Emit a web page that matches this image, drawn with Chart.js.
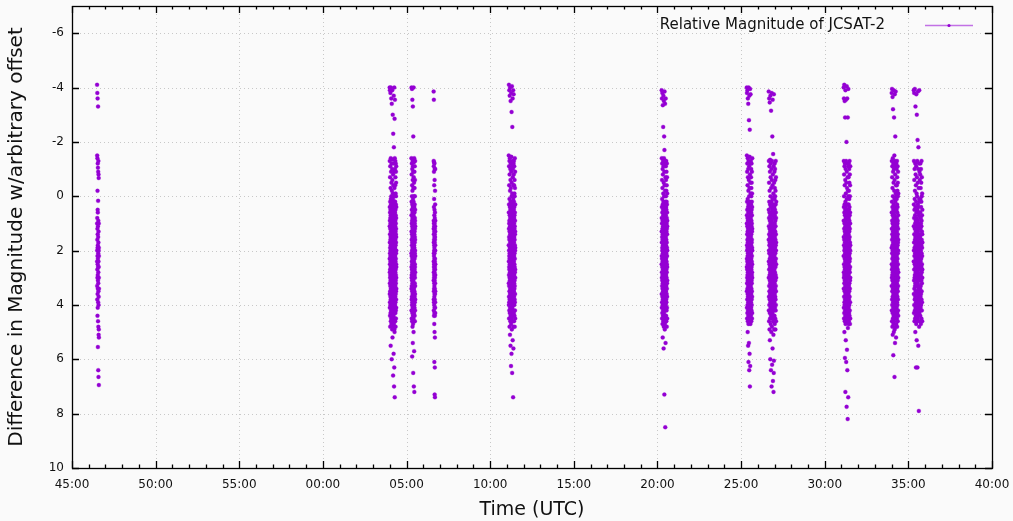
<!DOCTYPE html>
<html>
<head>
<meta charset="utf-8">
<script src="https://cdn.jsdelivr.net/npm/chart.js@4.4.1/dist/chart.umd.min.js"></script>
<style>
  html, body { margin: 0; padding: 0; background: #fafafa; }
  canvas { display: block; }
</style>
</head>
<body>
<canvas id="mag" width="1013" height="521"></canvas>
<script>
// time axis: minutes after the 45:00 mark
const xTickValues = [0, 5, 10, 15, 20, 25, 30, 35, 40, 45, 50, 55];
const xTickLabels = ['45:00', '50:00', '55:00', '00:00', '05:00', '10:00', '15:00', '20:00', '25:00', '30:00', '35:00', '40:00'];
const yTickValues = [-6, -4, -2, 0, 2, 4, 6, 8, 10];

// start / end of each observing pass (minutes after 45:00)
const clusterStart = [1.50, 18.99, 20.29, 21.62, 26.11, 35.25, 40.34, 41.65, 46.13, 49.00, 50.32];
const clusterEnd   = [1.61, 19.39, 20.52, 21.72, 26.50, 35.59, 40.67, 42.10, 46.53, 49.40, 50.84];

// relative magnitudes, in time order within each pass
const magA = [-4.1, 2.4, 1.0, 3.3, -1.5, 2.0, 0.8, 3.8, -3.8, 1.6, 2.7, -1.4, 1.2, 3.0, 4.4, 2.2, -0.2, 1.9, 3.6, -3.6,
  2.5, 0.5, 1.4, 4.1, -1.2, 2.9, 0.6, 3.4, 1.8, 5.55, 2.3, -1.05, 3.1, 1.1, 4.6, -3.3, 2.6, 0.17, 3.9, 1.5,
  -0.9, 2.1, 6.4, 3.2, 0.9, 2.8, 4.8, -1.3, 1.7, 3.5, 2.4, 6.65, -0.8, 1.3, 4.0, 2.0, 5.1, 3.7, -0.67, 2.6,
  1.0, 4.9, 3.0, 1.9, 6.95, 2.2, 5.2, 3.4];
const magB = [-4.0, 2.3, 1.1, 3.6, -1.3, 0.4, 2.8, 4.1, 1.7, 3.2, -3.9, 0.9, 2.5, 3.9, 1.4, 2.1, 4.4, 0.6, -0.7, 3.0,
  1.9, 2.7, 3.5, 0.2, 4.8, 1.2, 2.9, -1.1, 3.3, 0.8, 2.2, 4.0, 1.6, -3.8, 3.7, 2.4, 0.5, 1.0, 4.3, 2.0,
  -0.3, 3.1, 1.5, 2.6, 5.5, 0.7, 3.8, 1.8, -1.4, 2.3, 4.6, 0.1, 3.4, 1.3, 2.7, -4.0, 3.9, 0.3, 2.0, 4.2,
  1.1, -0.9, 2.9, 3.6, 1.7, 0.6, 2.4, 4.5, 1.0, 3.2, -3.6, 2.1, 0.0, 3.0, 1.4, 4.7, 2.6, -0.5, 1.9, 3.5,
  0.8, 2.8, 4.1, 1.2, -1.2, 3.3, 2.2, 0.4, 6.0, 1.6, 3.7, 2.5, -3.4, 0.9, 4.4, 1.8, 3.1, -0.2, 2.0, 1.3,
  3.8, 0.5, 2.7, 4.0, 1.5, -1.0, 2.3, 3.4, 0.2, 4.9, 1.9, -3.9, 2.9, 1.0, 3.6, 0.7, 2.1, 4.3, -0.6, 1.4,
  3.0, 2.6, 0.3, 5.2, 1.7, 3.9, 2.4, -1.35, 0.9, 4.6, 2.0, 1.2, 3.3, -3.0, 2.8, 0.6, 4.2, 1.6, -0.1, 3.5,
  2.2, 1.1, 3.8, 0.1, 2.5, 4.5, -0.8, 1.8, 3.2, 6.6, 2.7, 0.4, 4.0, 1.3, -2.3, 2.9, 3.6, 0.8, 2.1, 4.8,
  1.5, -0.4, 3.1, 2.4, 0.0, 4.4, 1.9, 3.4, -1.2, 2.6, 1.0, 5.8, 3.7, 0.5, 2.3, 4.1, 1.4, -3.7, 3.0, 2.0,
  0.7, 3.9, 1.7, -1.8, 2.8, 4.7, 1.2, 3.3, 0.3, 2.5, 7.0, 1.6, 3.6, -0.9, 2.2, 4.3, 0.9, 1.8, 3.0, 6.3,
  -4.0, 2.7, 1.3, 4.9, 0.6, 3.5, 2.1, -0.3, 1.0, 3.8, 2.4, 5.0, 1.5, -2.85, 2.9, 0.2, 4.2, 1.9, 3.2, 7.4,
  -1.4, 2.6, 0.8, 3.7, 1.1, 4.5, 2.3, -3.55, 3.1, 1.7,
  0.6, 3.4, 1.9, -1.0, 2.6, 4.0, 0.2, 3.0, 1.5, -0.4, 2.2, 4.6, 1.1, 3.7, -1.3, 2.8, 0.9, 3.3, 1.6, 4.3,
  -0.7, 2.4, 0.5, 3.9, 1.3, 2.0, 4.8, -0.1, 3.1, 1.8, 2.7, 0.7, -1.2, 3.6, 1.0, 4.2, 2.3, 0.3, 3.2, 1.4,
  2.9, -0.9, 4.5, 1.7, 0.0, 3.5, 2.1, -0.5, 1.2, 3.8, 2.5, 0.8, 4.1, 1.5, -1.1, 3.0, 2.0, 0.4, 3.4, 2.6];
const magC = [2.1, -1.4, 3.4, 0.7, 2.6, 4.2, 1.3, -4.0, 3.0, 0.2, 2.2, 3.8, 1.6, -0.8, 2.9, 4.5, 1.0, 3.3, 0.5, 2.4,
  -1.2, 3.7, 1.8, 2.7, 0.0, 4.0, 1.4, -3.95, 3.1, 2.0, 0.9, 4.6, -0.4, 2.5, 3.5, 1.1, 5.9, 2.8, -1.0, 1.7,
  3.9, 0.3, 2.3, 4.3, 1.5, -3.55, 3.2, 0.8, 2.6, -0.2, 1.9, 4.8, 3.6, 1.2, 2.1, 0.6, -1.3, 3.0, 4.1, 1.6,
  2.9, -0.6, 3.4, 0.4, 2.4, 5.4, 1.0, 3.8, -3.3, 2.2, 4.4, 1.3, -1.1, 0.1, 2.7, 3.3, 1.8, 4.7, 0.9, 2.0,
  -0.9, 3.7, 2.5, 1.4, 6.5, 0.5, 3.1, -2.2, 4.0, 1.7, 2.8, -0.3, 3.5, 1.1, 2.3, 4.5, 0.7, -1.35, 3.9, 2.6,
  1.5, 5.0, 0.2, 3.2, 2.0, -4.0, 4.2, 1.9, -0.7, 2.9, 1.2, 3.6, 0.6, 7.0, 2.4, 4.6, -1.25, 1.6, 3.0, 0.0,
  2.7, 3.4, 1.3, -0.5, 4.3, 2.1, 5.7, 0.8, 3.8, 1.8, -1.4, 2.5, 4.0, 1.0, 3.3, 0.4, 2.2, 7.2, 1.4, 3.6,
  1.9, 3.5, -0.9, 2.7, 0.6, 4.1, 1.3, 2.3, -0.3, 3.7, 1.0, 2.9, 4.4, 0.3, 1.7, 3.2, -1.1, 2.1, 0.8, 3.9,
  2.5, 1.5, 4.6, 0.0, 3.0, 1.2, -0.6, 2.6, 3.6, 0.9, 2.0, 4.2, 1.6, -1.3, 3.3, 0.5, 2.8, 1.1, 3.8, 2.2];
const magD = [-3.85, 1.2, 3.1, -1.3, 2.4, 0.9, 3.8, 1.7, -1.1, 2.8, 4.2, 1.4, -3.55, 2.1, 3.5, 0.4, 2.6, 1.0, 3.9, -0.9,
  2.2, 4.4, 1.6, 3.0, -1.25, 2.5, 1.1, 3.4, 0.1, 2.9, 4.0, 1.8, -0.4, 3.2, 2.0, 4.7, 1.3, 2.7, 0.7, 3.7,
  6.1, 1.9, 3.3, -1.2, 2.3, 4.3, 1.5, 2.8, 0.5, 3.6, 2.1, 5.0, 1.0, 3.1, -0.6, 2.5, 4.1, 1.7, 7.3, 2.9,
  3.8, 1.4, -1.0, 2.4, 0.8, 3.4, 6.3, 2.0, 4.4, 1.2, 3.0, 5.2, 2.6, 1.6, 7.4,
  2.3, 0.6, 3.6, 1.5, -0.2, 2.7, 4.1, 1.1, 3.2, 0.3, 2.0, 3.9, 1.8, -1.0, 2.9, 4.3, 1.3, 3.5, 0.9, 2.5];
const magE = [1.8, -1.5, 3.2, 0.6, 2.4, 4.0, -4.1, 1.2, 2.9, 3.7, 0.3, 2.0, -1.1, 4.5, 1.5, 3.3, 2.6, -0.4, 1.0, 3.9,
  2.2, -3.9, 4.2, 0.9, 2.7, 1.6, 3.5, -1.3, 0.1, 2.3, 4.8, 1.3, 3.0, -0.8, 2.1, 3.8, 0.7, -3.7, 2.5, 4.3,
  1.9, 3.1, -1.4, 0.4, 2.8, 1.1, 3.6, 5.1, 2.0, -0.2, 4.1, 1.4, 3.4, 0.8, -4.0, 2.6, 1.7, 3.9, -1.0, 2.2,
  4.6, 0.5, 3.2, 1.2, 2.9, -0.6, 3.7, 1.8, 5.5, 2.4, 0.2, -3.5, 4.4, 1.5, 3.0, 2.1, -1.2, 0.9, 3.5, 2.7,
  1.0, 4.0, -0.3, 2.3, 3.3, 1.6, 6.25, 0.6, 2.8, -3.8, 4.7, 1.3, 3.8, 2.0, -0.9, 1.9, 3.1, 0.3, 2.5, 4.2,
  1.1, -1.45, 3.6, 2.2, 0.7, 5.8, 2.9, 1.4, -3.1, 3.4, 0.0, 4.5, 1.7, 2.6, -0.5, 3.9, 1.2, 2.1, 4.9, 0.8,
  3.2, -4.05, 2.4, 1.5, -1.1, 3.7, 0.4, 2.7, 4.3, 1.8, 6.5, 3.0, -0.1, 2.0, 1.0, 4.1, -2.55, 2.8, 3.5, 0.5,
  1.6, 3.3, -1.3, 2.5, 4.6, 0.9, 2.2, 3.8, -3.6, 1.3, 5.3, 2.9, 0.2, -0.7, 3.1, 1.9, 4.4, 2.3, 1.1, 3.6,
  0.6, -1.0, 2.6, 4.0, 1.4, 3.4, 7.4, 2.1, -3.9, 0.1, 2.8, 4.8, 1.7, 3.0, -0.4, 2.4, 1.2, 3.9, 5.6, 0.7,
  2.0, -1.2, 3.5, 1.5, 4.2, 2.7, -3.75, 0.3, 3.2, 1.8,
  2.4, -0.8, 3.5, 1.3, 0.5, 4.3, 2.0, -1.3, 3.0, 1.7, 0.2, 2.7, 4.6, 1.0, -0.4, 3.7, 2.2, 0.8, 3.2, 1.5,
  -1.1, 2.9, 4.0, 0.4, 1.9, 3.4, -0.1, 2.5, 1.2, 4.4, 0.7, 3.1, 2.1, -0.6, 3.8, 1.6, 0.0, 2.6, 4.8, 1.1,
  3.3, -1.4, 2.3, 0.6, 3.9, 1.8, -0.3, 2.8, 4.2, 1.4, 0.9, 3.6, 2.0, -0.9, 1.3, 4.5, 2.7, 0.3, 3.0, 1.9];
const magF = [2.5, -3.9, 1.3, 3.6, 0.8, 2.2, -1.4, 4.1, 1.7, 3.0, 0.4, 2.8, -3.6, 1.0, 3.9, 2.3, -0.6, 4.5, 1.5, 3.3,
  0.1, 2.6, -1.2, 1.9, 4.3, 3.1, 0.6, -3.8, 2.0, 3.7, 1.2, -0.3, 2.9, 4.7, 1.6, 3.4, 0.9, -1.0, 2.4, 4.0,
  1.4, 5.2, 3.2, 0.3, 2.1, -3.35, 3.8, 1.8, -0.8, 2.7, 4.4, 1.1, 3.5, 0.5, 2.3, -1.3, 1.5, 4.2, 2.9, -2.55,
  0.7, 3.0, 2.0, -0.1, 4.6, 1.3, 3.6, 2.5, -3.7, 0.2, 1.9, 3.3, -1.1, 2.8, 4.1, 1.0, 5.6, 3.9, 0.8, 2.2,
  -0.5, 1.7, 3.1, 4.8, 2.6, -3.5, 1.2, 3.7, 0.4, 2.4, -1.4, 4.3, 1.6, 2.9, 0.0, 3.4, -2.2, 2.1, 1.4, 4.0,
  3.2, 0.6, -0.9, 2.7, 1.8, 7.3, 3.8, 2.3, -1.7, 1.1, 4.5, 0.9, 3.0, -3.85, 2.5, 1.5, 3.5, -0.4, 2.0, 4.2,
  1.3, 4.9, 2.8, 0.3, 3.6, -1.2, 1.9, 2.4, 4.7, 0.7, 3.1, -3.4, 1.6, 2.6, -0.2, 3.9, 1.0, 4.4, 2.2, 8.5,
  0.5, 3.3, -1.3, 2.9, 1.7, 4.1, 0.2, 2.1, 3.7, -0.7, 1.2, 5.4, 2.7, 3.4, 0.8, -3.6, 4.6, 1.4, 2.3, 3.0,
  3.1, 0.7, -1.1, 2.6, 1.5, 4.0, 0.0, 2.3, 3.5, -0.6, 1.8, 4.4, 2.9, 0.4, 1.1, 3.8, -1.3, 2.1, 0.9, 3.3,
  4.6, 1.6, -0.2, 2.7, 0.5, 3.9, 1.3, -0.9, 2.4, 4.2, 1.0, 3.0, 0.2, 2.0, 3.6, -0.4, 1.7, 4.8, 2.8, 0.8,
  -1.2, 3.4, 1.2, 2.5, 0.3, 4.1, 1.9, -0.7, 3.2, 2.2, 0.6, 3.7, 1.4, 4.5, -0.1, 2.6, 1.1, 3.1, 0.9, 2.0];
const magG = [-4.0, 2.6, 1.0, 3.5, -1.5, 0.7, 2.3, 4.1, 1.8, -3.8, 3.2, 0.2, 2.0, 4.5, 1.4, -0.9, 3.0, 2.7, 0.5, 3.8,
  1.1, -1.2, 2.4, 4.3, 1.6, 3.4, -3.9, 0.8, 2.9, 1.9, 4.0, -0.4, 2.2, 3.6, 1.3, 5.0, 2.5, 0.1, -1.4, 3.1,
  1.7, 4.6, 2.8, -3.6, 0.9, 3.7, 2.1, -0.7, 1.2, 4.2, 3.3, 0.4, 2.6, 5.5, 1.5, -1.0, 3.9, 2.0, -3.4, 4.4,
  0.6, 2.7, 1.8, 3.0, -0.2, 2.3, 4.7, 1.1, 6.1, 3.5, 0.3, -1.3, 2.9, 1.4, 4.0, -4.0, 2.4, 3.2, 0.8, 1.9,
  3.8, -0.6, 2.2, 4.5, 1.0, 5.4, 2.6, -2.8, 3.4, 0.5, 1.6, 4.1, 2.8, -1.1, 3.1, 0.0, 2.0, 6.4, 1.3, 3.6,
  2.5, -3.7, 4.3, 0.9, 1.7, 3.0, -0.3, 2.1, 4.6, 1.2, 3.7, 5.8, 0.6, 2.7, -1.45, 1.5, 3.3, 2.4, -2.45, 4.2,
  1.9, 0.2, 3.9, 2.2, 7.0, 1.0, -0.8, 2.9, 3.5, 1.4, 4.4, 0.7, -3.95, 2.6, 1.8, 6.25, 3.1, -0.5, 2.3, 4.0,
  1.1, 3.4, 0.4, 2.8, -1.2, 1.6, 4.7, 2.0, 3.2, 0.9, -3.75, 2.5, 1.3, 3.8, -0.1, 2.1, 4.3, 1.7, 3.0, 0.3,
  0.8, 3.3, -1.3, 2.1, 4.4, 1.5, 0.3, 2.8, 3.9, -0.7, 1.2, 2.5, 4.1, 0.6, 3.0, -1.0, 1.8, 3.6, 2.3, 0.0,
  4.6, 1.4, 2.7, -0.3, 3.4, 0.9, 2.0, 4.2, 1.1, -1.2, 3.1, 2.6, 0.5, 3.8, 1.7, -0.5, 2.4, 4.0, 1.0, 3.2,
  0.2, 2.9, 1.6, -0.9, 3.5, 2.2, 0.7, 4.5, 1.3, 2.8, -0.1, 3.7, 1.9, 0.4, 2.5, 4.3, 1.2, 3.0, -1.4, 2.0];
const magH = [1.6, -3.85, 3.0, 0.5, 2.4, 4.2, -1.3, 1.1, 3.7, 2.0, 0.8, 4.6, -0.5, 2.7, 1.4, 3.3, -3.6, 0.2, 2.1, 4.0,
  1.8, 3.5, -1.1, 2.5, 0.6, 4.9, 1.2, 2.9, -0.2, 3.8, 1.7, -3.45, 2.3, 4.3, 0.9, 3.1, 5.3, 1.5, -0.9, 2.6,
  3.6, 0.3, 2.0, 4.5, -1.34, 1.3, 3.2, 2.8, 0.7, 6.0, 1.9, 3.9, -3.7, 2.2, 0.0, 4.1, 1.0, 3.4, -0.7, 2.7,
  1.6, 4.7, 2.4, 0.4, 3.0, -1.2, 1.2, 3.7, 2.1, 6.4, 0.8, 4.4, -3.15, 2.9, 1.5, 3.3, -0.3, 2.5, 1.8, 5.0,
  3.8, 0.6, 2.3, -1.0, 4.2, 1.1, 3.5, 2.0, 7.0, 0.2, 2.8, -3.8, 1.7, 4.0, 3.1, -0.6, 1.4, 2.6, 4.8, 0.9,
  3.6, 2.2, -1.3, 1.0, 6.2, 3.9, 0.5, 2.4, 4.5, 1.6, -2.2, 3.2, 2.9, 0.1, 1.9, 4.3, -0.4, 2.7, 5.6, 1.3,
  3.4, -3.55, 0.7, 2.1, 4.1, 1.8, 3.0, -0.8, 2.5, 6.8, 1.2, 3.7, 0.3, 4.6, 2.0, -1.55, 1.5, 3.3, 2.8, 0.6,
  4.0, 1.7, -0.1, 2.3, 5.1, 3.5, 1.0, 7.2, 2.6, -1.1, 4.4, 0.4, 3.1, 1.4, 6.5, 2.2, 3.8, -3.75, 1.9, 6.05,
  0.8, 2.9, 4.2, 1.1, -0.5, 3.6, 2.4, 4.9, 0.0, 1.6,
  2.7, 0.4, 3.9, 1.2, -0.9, 2.2, 4.4, 1.7, 0.1, 3.2, 2.5, -1.2, 1.0, 3.6, 4.7, 0.7, 2.0, -0.3, 3.0, 1.5,
  4.1, 2.8, 0.5, -1.0, 3.4, 1.9, 2.4, 0.0, 4.5, 1.3, 3.7, -0.6, 2.1, 0.9, 3.1, 4.9, 1.6, 2.6, -0.2, 3.8,
  1.1, 0.3, 2.9, 4.2, -1.3, 1.8, 3.3, 0.6, 2.3, 4.0, 1.4, -0.7, 3.5, 2.0, 0.8, 4.6, 1.7, 3.0, 2.5, 0.2];
const magI = [2.2, -4.0, 0.9, 3.4, 1.5, -1.3, 2.8, 4.1, 0.4, 3.0, -3.6, 1.8, 2.5, 4.5, 0.0, 3.7, -0.8, 1.2, 2.9, 4.3,
  1.6, -4.1, 3.2, 0.6, 2.0, 5.0, 3.9, -1.1, 1.0, 2.6, 4.0, 0.3, 3.5, -3.5, 1.9, 2.3, -0.4, 4.6, 1.3, 3.1,
  0.7, 2.7, 5.95, 1.7, -1.2, 3.8, 2.1, 4.2, -2.9, 0.5, 3.3, 1.4, 2.4, -0.6, 4.4, 1.1, 3.6, 7.2, 2.8, 0.2,
  -3.9, 2.0, 4.7, 1.6, 3.0, -1.0, 0.8, 2.5, 3.9, 1.2, 5.3, 2.2, -0.1, 4.1, 1.8, 3.4, -3.55, 0.4, 2.9, 4.5,
  1.5, -1.3, 3.2, 2.3, 6.1, 0.9, 3.7, 1.0, -0.5, 2.6, 4.3, 1.9, 3.5, -2.0, 0.6, 2.1, 4.0, 1.3, 7.75, 3.1,
  2.7, -4.05, 0.1, 3.8, 1.7, -0.9, 2.4, 4.6, 1.1, 3.3, 5.65, 2.0, -0.3, 3.6, 1.4, 4.2, 0.7, -3.6, 2.8, 1.6,
  3.0, 6.4, 2.2, -1.2, 4.4, 0.3, 3.9, 1.8, 2.5, -0.7, 3.4, 1.2, 8.2, 2.9, 0.5, -2.9, 4.1, 1.0, 3.2, 2.3,
  4.85, 1.5, -0.2, 3.7, 0.8, 2.6, 4.5, -1.1, 1.9, 3.0, 7.4, 2.1, 0.0, 3.5, -3.95, 1.3, 4.7, 2.4, 0.6, 3.3,
  1.4, 3.6, -0.7, 2.5, 0.3, 4.1, 1.8, 2.9, -1.2, 0.8, 3.3, 2.0, 4.6, 1.1, -0.2, 3.8, 2.6, 0.5, 1.6, 4.3,
  3.0, -1.0, 2.2, 0.1, 3.5, 1.3, 4.0, 2.7, -0.5, 0.9, 3.2, 1.9, 4.4, 0.4, 2.4, -1.3, 3.7, 1.5, 2.1, 0.7,
  4.2, 2.8, -0.8, 1.2, 3.4, 0.0, 2.3, 4.7, 1.7, 3.1, -0.4, 0.6, 2.6, 3.9, 1.0, 2.0, 4.5, -1.1, 3.0, 1.8];
const magJ = [1.9, -3.8, 3.3, 0.6, 2.5, -1.3, 4.2, 1.2, 3.0, 0.2, 2.7, 4.6, -3.95, 1.6, 3.8, 2.1, -0.7, 0.9, 4.0, 2.9,
  1.4, 3.5, -1.1, 2.3, 4.8, 0.4, 3.1, 1.8, -0.3, 2.6, -3.65, 4.3, 1.0, 3.7, 2.0, 0.7, 5.1, 2.8, -1.4, 1.5,
  3.4, 4.5, 0.0, 2.2, 1.3, -3.2, 3.9, 2.5, -0.9, 4.1, 1.7, 3.2, 0.5, 2.9, 5.85, 1.1, 3.6, -1.2, 2.4, 4.7,
  0.8, 2.0, 3.0, -0.5, 1.6, 4.4, 2.7, -3.9, 0.3, 3.5, 1.9, 5.0, 2.3, -1.0, 3.8, 1.2, 4.0, 0.6, 2.6, -2.9,
  3.3, 1.4, 2.1, 4.6, -0.2, 0.9, 3.7, 2.8, 1.7, -1.5, 4.2, 0.1, 3.1, 2.4, 6.65, 1.0, 3.9, -0.6, 2.0, 4.9,
  1.5, -3.75, 3.4, 0.7, 2.7, 4.3, 1.3, -1.3, 3.0, 2.2, 0.4, 5.4, 1.8, 3.6, -0.8, 2.5, 4.1, 1.1, 2.9, -2.2,
  0.2, 3.2, 1.6, 4.5, 2.3, -1.1, 0.8, 3.8, 2.0, 4.8, 1.4, -3.85, 2.6, 3.5, -0.1, 1.9, 4.0, 0.5, 3.1, 2.4,
  1.0, 4.4, -0.4, 2.8, 5.2, 1.2, 3.3, 0.0, 2.1, 3.9, -1.2, 1.7, 4.7, 2.5, 0.9, 3.0, 1.5, 4.2, 2.2, 3.7,
  3.0, 0.5, 2.2, -1.0, 4.1, 1.6, 2.8, 0.1, 3.6, -0.4, 1.3, 4.5, 2.4, 0.8, 3.2, -1.3, 1.9, 3.9, 0.3, 2.6,
  4.8, 1.1, -0.7, 3.4, 2.0, 0.6, 4.3, 1.5, 2.9, -0.2, 3.7, 1.0, 2.3, 4.0, 0.4, -1.1, 3.1, 1.8, 2.7, 0.9,
  4.6, 1.4, 3.5, -0.5, 2.1, 0.0, 3.8, 1.7, 2.5, 4.2, -0.9, 1.2, 3.3, 0.7, 2.0, 4.4, 1.6, 3.0, -0.1, 2.8];
const magK = [2.4, -3.9, 1.1, 3.6, 0.3, 2.0, -1.3, 4.3, 1.7, 3.1, 0.8, -3.8, 2.7, 4.0, 1.4, -0.6, 3.4, 2.2, 0.5, 4.6,
  1.9, 3.0, -1.0, 2.5, 0.1, 3.8, 1.2, -3.95, 2.9, 4.2, 1.6, -0.2, 3.3, 0.7, 2.1, 4.5, 1.0, 3.7, -1.2, 2.6,
  5.0, 1.5, 3.2, 0.4, -3.3, 2.3, 4.1, 1.8, -0.8, 2.8, 3.5, 0.9, 4.4, 1.3, 2.0, -0.4, 3.9, 6.3, 1.6, 2.4,
  0.2, 3.0, -1.1, 4.7, 1.1, -3.75, 2.7, 3.6, 0.6, 1.9, 4.0, 2.2, -0.1, 3.3, 1.4, 5.3, 2.5, 0.8, -3.0, 3.8,
  1.7, 4.3, -0.7, 2.1, 3.1, 0.0, 2.9, 1.2, 4.6, -1.3, 2.4, 3.5, 0.5, 1.5, 6.3, 3.9, 2.0, -2.07, 4.2, 1.0,
  2.6, -0.5, 3.2, 1.8, 0.3, 4.5, 2.3, -3.85, 1.3, 3.7, 0.9, 2.8, -1.0, 4.1, 1.6, 5.5, 3.4, 2.1, 0.4, -1.8,
  3.0, 1.1, 4.4, 2.7, -0.3, 1.9, 3.6, 0.7, 2.4, 7.9, 1.4, 4.0, -1.2, 3.3, 2.2, 0.1, 4.8, 1.7, 2.9, -3.9,
  3.8, 0.6, 2.0, 4.3, 1.2, -0.9, 3.1, 2.5, 1.5, 4.6, 0.2, 3.5, 1.8, -0.6, 2.6, 4.2, 1.0, 3.9, 2.3, 0.8,
  1.5, 3.4, -0.8, 2.2, 0.6, 4.4, 1.9, 3.0, -1.2, 2.7, 0.1, 3.7, 1.2, 4.1, 2.4, -0.3, 1.7, 3.3, 0.8, 2.0,
  4.7, 1.0, -1.0, 2.9, 3.6, 0.4, 1.4, 4.0, 2.3, -0.5, 3.1, 1.8, 0.2, 2.6, 4.5, 1.1, 3.8, -1.3, 2.1, 0.9,
  3.5, 1.6, 2.8, 0.0, 4.2, -0.7, 1.3, 3.2, 2.5, 0.7, 3.9, 1.9, -0.1, 2.2, 4.6, 1.4, 3.0, 0.5, 2.7, 1.7];

const clusterMags = [magA, magB, magC, magD, magE, magF, magG, magH, magI, magJ, magK];

// samples are evenly spaced in time across each pass
const points = [];
clusterMags.forEach((mags, c) => {
  const dt = (clusterEnd[c] - clusterStart[c]) / (mags.length - 1);
  mags.forEach((m, i) => {
    points.push({x: clusterStart[c] + i * dt, y: m});
  });
});

const violet = '#9400d3';

// gnuplot-ish frame: dotted grid, inward ticks on all four sides, key in the corner
const gnuFrame = {
  id: 'gnuFrame',
  beforeDatasetsDraw(chart) {
    const {ctx, chartArea: a, scales: {x, y}} = chart;
    ctx.save();
    ctx.strokeStyle = '#c8c8c8';
    ctx.lineWidth = 1;
    ctx.setLineDash([1, 3]);
    ctx.beginPath();
    xTickValues.slice(1, -1).forEach(v => {
      const px = Math.round(x.getPixelForValue(v)) + 0.5;
      ctx.moveTo(px, a.top);
      ctx.lineTo(px, a.bottom);
    });
    yTickValues.slice(0, -1).forEach(v => {
      const py = Math.round(y.getPixelForValue(v)) + 0.5;
      ctx.moveTo(a.left, py);
      ctx.lineTo(a.right, py);
    });
    ctx.stroke();
    ctx.restore();
  },
  afterDatasetsDraw(chart) {
    const {ctx, chartArea: a, scales: {x, y}} = chart;
    ctx.save();
    ctx.strokeStyle = '#000';
    ctx.lineWidth = 1.3;
    ctx.beginPath();
    for (let m = x.min; m <= x.max; m += 1) {
      const px = Math.round(x.getPixelForValue(m)) + 0.5;
      const len = m % 5 === 0 ? 7 : 3.5;
      ctx.moveTo(px, a.bottom); ctx.lineTo(px, a.bottom - len);
      ctx.moveTo(px, a.top); ctx.lineTo(px, a.top + len);
    }
    yTickValues.forEach(v => {
      const py = Math.round(y.getPixelForValue(v)) + 0.5;
      ctx.moveTo(a.left, py); ctx.lineTo(a.left + 7, py);
      ctx.moveTo(a.right, py); ctx.lineTo(a.right - 7, py);
    });
    ctx.stroke();
    ctx.strokeRect(Math.round(a.left) + 0.5, Math.round(a.top) + 0.5,
      Math.round(a.right - a.left), Math.round(a.bottom - a.top));

    // key
    ctx.fillStyle = '#111';
    ctx.font = '15px "DejaVu Sans", sans-serif';
    ctx.textAlign = 'right';
    ctx.textBaseline = 'middle';
    ctx.fillText('Relative Magnitude of JCSAT-2', a.right - 107, a.top + 19);
    ctx.strokeStyle = 'rgba(148, 0, 211, 0.55)';
    ctx.lineWidth = 1.5;
    ctx.beginPath();
    ctx.moveTo(a.right - 67, a.top + 19.5);
    ctx.lineTo(a.right - 19, a.top + 19.5);
    ctx.stroke();
    ctx.fillStyle = violet;
    ctx.beginPath();
    ctx.arc(a.right - 43, a.top + 19.5, 1.6, 0, Math.PI * 2);
    ctx.fill();
    ctx.restore();
  }
};

const noPad = s => { s.paddingTop = 0; s.paddingBottom = 0; s.paddingLeft = 0; s.paddingRight = 0; };

Chart.defaults.font.family = '"DejaVu Sans", sans-serif';
Chart.defaults.color = '#111';

new Chart(document.getElementById('mag'), {
  type: 'scatter',
  data: {
    datasets: [{
      label: 'Relative Magnitude of JCSAT-2',
      data: points,
      pointRadius: 2.0,
      pointHoverRadius: 2.0,
      borderWidth: 0.5,
      backgroundColor: violet,
      borderColor: 'rgba(148, 0, 211, 0.55)'
    }]
  },
  options: {
    responsive: false,
    animation: false,
    devicePixelRatio: 1,
    layout: {padding: {left: 0, right: 21, top: 6, bottom: 0}},
    plugins: {legend: {display: false}, tooltip: {enabled: false}},
    scales: {
      x: {
        type: 'linear',
        min: 0,
        max: 55,
        afterBuildTicks: s => { s.ticks = xTickValues.map(v => ({value: v})); },
        afterFit: s => { s.height = 53; noPad(s); },
        grid: {display: false, drawTicks: false},
        border: {display: false},
        ticks: {
          autoSkip: false,
          maxRotation: 0,
          padding: 10,
          font: {size: 12},
          callback: v => xTickLabels[xTickValues.indexOf(v)]
        },
        title: {display: true, text: 'Time (UTC)', font: {size: 19}, padding: 0}
      },
      y: {
        type: 'linear',
        reverse: true,
        min: -7,
        max: 10,
        afterBuildTicks: s => { s.ticks = yTickValues.map(v => ({value: v})); },
        afterFit: s => { s.width = 72; noPad(s); },
        grid: {display: false, drawTicks: false},
        border: {display: false},
        ticks: {padding: 8, font: {size: 12}},
        title: {display: true, text: 'Difference in Magnitude w/arbitrary offset', font: {size: 20}, padding: 5}
      }
    }
  },
  plugins: [gnuFrame]
});
</script>
</body>
</html>
